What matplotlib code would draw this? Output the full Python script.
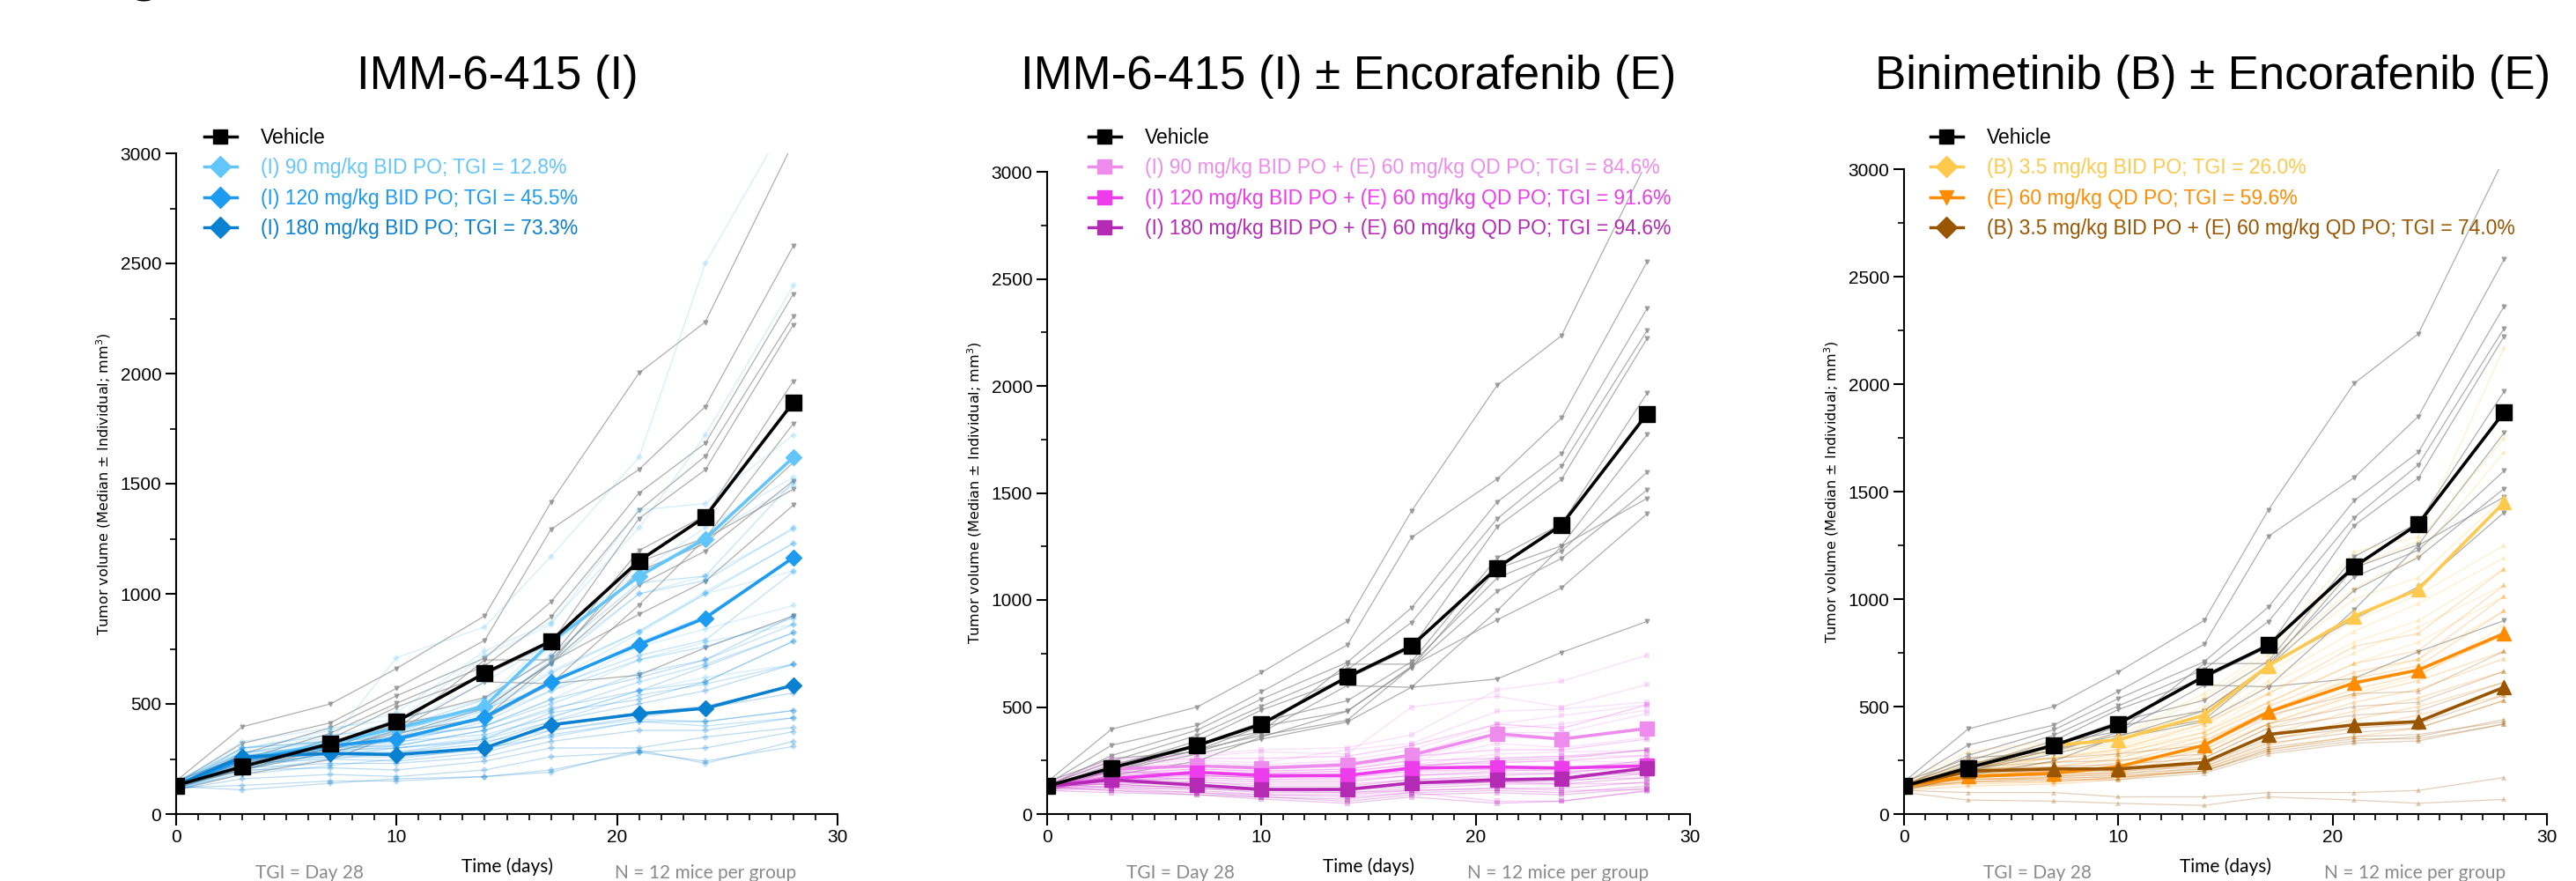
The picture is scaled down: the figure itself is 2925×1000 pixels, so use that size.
import matplotlib
matplotlib.use("Agg")
import matplotlib.pyplot as plt
from matplotlib.lines import Line2D
from matplotlib.ticker import MultipleLocator

plt.rcParams['font.family'] = ['Liberation Sans', 'DejaVu Sans']

days = [0, 3, 7, 10, 14, 17, 21, 24, 28]

# vehicle (shared by all three panels)
vehicle_median = [130, 215, 320, 420, 640, 785, 1150, 1350, 1870]
vehicle_mice = [
    [150, 396, 500, 661, 900, 1415, 2003, 2234, 3050],
    [140, 321, 414, 571, 789, 1292, 1565, 1850, 2580],
    [130, 273, 392, 537, 708, 963, 1458, 1683, 2362],
    [135, 247, 367, 503, 673, 895, 1379, 1625, 2259],
    [125, 222, 341, 486, 631, 776, 1342, 1563, 2222],
    [130, 230, 324, 430, 529, 711, 1197, 1355, 1966],
    [120, 215, 298, 409, 481, 685, 1146, 1253, 1773],
    [140, 196, 330, 384, 700, 700, 1103, 1228, 1597],
    [125, 200, 300, 367, 438, 685, 1040, 1194, 1514],
    [150, 260, 290, 380, 600, 592, 950, 1250, 1475],
    [110, 180, 247, 360, 480, 690, 907, 1057, 1403],
    [120, 200, 280, 350, 430, 592, 631, 755, 900],
]

# panel 1: IMM-6-415 alone
i90_median = [130, 250, 320, 390, 490, 780, 1080, 1250, 1620]
i90_mice = [
    [150, 300, 330, 710, 850, 1170, 1620, 2500, 3200],
    [140, 290, 380, 460, 740, 870, 1300, 1720, 2400],
    [130, 270, 350, 420, 720, 860, 1380, 1410, 1721],
    [120, 250, 320, 400, 600, 780, 1080, 1250, 1620],
    [135, 330, 390, 430, 520, 800, 1100, 1300, 1530],
    [125, 230, 300, 380, 500, 760, 1090, 1260, 1492],
    [140, 260, 330, 400, 470, 700, 1000, 1080, 1291],
    [115, 220, 300, 360, 480, 650, 830, 1010, 1228],
    [130, 240, 310, 390, 450, 600, 820, 1000, 1104],
    [150, 280, 340, 370, 440, 560, 760, 840, 947],
    [110, 200, 280, 340, 400, 520, 700, 780, 861],
    [125, 210, 260, 300, 350, 440, 560, 620, 680],
]
i120_median = [130, 245, 310, 340, 440, 600, 770, 890, 1165]
i120_mice = [
    [140, 280, 330, 390, 520, 720, 1050, 1080, 1510],
    [130, 260, 320, 370, 500, 680, 1000, 1060, 1300],
    [120, 245, 310, 350, 470, 640, 830, 1000, 1230],
    [135, 250, 300, 330, 440, 600, 780, 900, 1165],
    [125, 300, 360, 380, 480, 580, 720, 790, 1100],
    [140, 230, 290, 320, 420, 560, 700, 760, 890],
    [130, 240, 310, 340, 400, 500, 640, 700, 861],
    [115, 210, 280, 310, 380, 470, 600, 680, 823],
    [150, 260, 300, 330, 360, 440, 560, 600, 785],
    [110, 190, 250, 280, 340, 420, 540, 590, 680],
    [130, 220, 270, 300, 330, 380, 430, 420, 470],
    [120, 180, 220, 250, 300, 350, 420, 400, 437],
]
i180_median = [130, 260, 275, 270, 300, 405, 455, 480, 585]
i180_mice = [
    [140, 300, 330, 350, 400, 520, 620, 700, 900],
    [130, 280, 300, 310, 380, 480, 560, 670, 823],
    [120, 270, 290, 300, 340, 460, 520, 600, 785],
    [135, 260, 280, 280, 320, 420, 500, 560, 680],
    [125, 250, 270, 270, 300, 400, 460, 490, 584],
    [140, 240, 260, 260, 290, 380, 440, 480, 550],
    [130, 230, 250, 240, 280, 360, 420, 420, 470],
    [115, 210, 230, 230, 260, 330, 380, 380, 437],
    [150, 200, 210, 200, 240, 300, 300, 350, 393],
    [110, 160, 180, 170, 200, 260, 280, 300, 374],
    [120, 130, 150, 150, 170, 200, 280, 240, 307],
    [125, 110, 140, 160, 170, 190, 290, 230, 330],
]

# panel 2: IMM-6-415 + encorafenib
ie90_median = [130, 210, 225, 215, 230, 275, 375, 350, 400]
ie90_mice = [
    [150, 250, 280, 300, 310, 370, 580, 620, 742],
    [140, 260, 270, 290, 280, 500, 550, 500, 605],
    [130, 230, 250, 240, 300, 330, 480, 490, 523],
    [125, 220, 240, 230, 250, 300, 420, 460, 511],
    [135, 210, 230, 220, 240, 280, 400, 420, 486],
    [120, 200, 220, 210, 230, 270, 380, 380, 469],
    [140, 210, 225, 210, 220, 260, 360, 350, 400],
    [130, 190, 210, 200, 210, 250, 330, 310, 358],
    [115, 180, 200, 190, 200, 230, 280, 290, 298],
    [145, 200, 190, 180, 190, 220, 260, 270, 273],
    [125, 170, 180, 170, 180, 200, 240, 250, 239],
    [110, 160, 170, 160, 170, 190, 210, 220, 230],
]
ie120_median = [130, 165, 195, 180, 180, 215, 220, 215, 225]
ie120_mice = [
    [140, 240, 260, 260, 270, 320, 420, 400, 510],
    [130, 200, 230, 220, 230, 270, 300, 300, 350],
    [125, 190, 210, 200, 210, 250, 260, 270, 298],
    [135, 180, 200, 190, 200, 230, 240, 250, 273],
    [120, 170, 195, 180, 180, 215, 220, 215, 239],
    [140, 165, 190, 180, 180, 210, 215, 215, 225],
    [130, 160, 180, 170, 170, 200, 210, 200, 210],
    [115, 150, 170, 160, 160, 180, 190, 190, 187],
    [145, 140, 150, 140, 140, 160, 170, 160, 170],
    [125, 130, 130, 120, 120, 140, 150, 140, 145],
    [110, 120, 120, 110, 100, 110, 120, 110, 114],
    [130, 110, 100, 90, 80, 100, 60, 60, 107],
]
ie180_median = [130, 160, 135, 115, 115, 145, 160, 165, 215]
ie180_mice = [
    [140, 200, 180, 170, 180, 220, 250, 260, 300],
    [130, 180, 160, 150, 150, 180, 200, 210, 250],
    [125, 170, 150, 130, 130, 160, 180, 190, 230],
    [135, 165, 140, 120, 120, 150, 165, 170, 215],
    [120, 160, 135, 115, 115, 145, 160, 165, 210],
    [140, 150, 130, 110, 110, 130, 150, 150, 190],
    [130, 140, 120, 100, 100, 120, 140, 140, 170],
    [115, 130, 110, 90, 90, 110, 120, 120, 150],
    [145, 120, 100, 80, 70, 100, 110, 100, 130],
    [125, 110, 90, 80, 60, 90, 100, 90, 120],
    [110, 100, 90, 70, 50, 80, 50, 60, 110],
    [130, 140, 120, 110, 120, 140, 150, 160, 200],
]

# panel 3: binimetinib +/- encorafenib
b_median = [130, 215, 320, 345, 460, 690, 920, 1045, 1450]
b_mice = [
    [150, 290, 340, 360, 560, 760, 1220, 1290, 2170],
    [140, 260, 330, 350, 540, 740, 1150, 1270, 1750],
    [130, 240, 320, 340, 500, 720, 1050, 1200, 1685],
    [125, 230, 310, 345, 480, 700, 1000, 1100, 1472],
    [135, 215, 320, 345, 460, 690, 920, 1045, 1450],
    [120, 200, 300, 330, 440, 660, 900, 1020, 1250],
    [140, 210, 300, 320, 420, 620, 850, 980, 1191],
    [130, 190, 290, 310, 400, 600, 800, 900, 1140],
    [115, 180, 270, 300, 380, 560, 750, 870, 1064],
    [145, 200, 260, 290, 360, 520, 700, 800, 1013],
    [125, 170, 240, 270, 340, 480, 640, 720, 945],
    [110, 160, 220, 250, 300, 420, 560, 640, 877],
]
e_median = [130, 175, 190, 220, 320, 475, 610, 670, 840]
e_mice = [
    [140, 220, 260, 300, 420, 560, 780, 840, 1140],
    [130, 200, 240, 280, 380, 520, 700, 760, 1064],
    [125, 190, 220, 260, 360, 500, 660, 720, 1013],
    [135, 180, 200, 240, 340, 480, 630, 690, 945],
    [120, 175, 190, 220, 320, 475, 610, 670, 840],
    [140, 170, 185, 210, 300, 450, 580, 650, 834],
    [130, 160, 175, 200, 280, 420, 550, 620, 757],
    [115, 150, 170, 190, 260, 400, 520, 580, 723],
    [145, 165, 160, 180, 240, 370, 480, 540, 664],
    [125, 140, 150, 170, 220, 340, 440, 500, 613],
    [110, 130, 140, 160, 210, 320, 400, 460, 553],
    [130, 150, 150, 170, 200, 300, 360, 400, 528],
]
be_median = [130, 200, 210, 210, 240, 370, 415, 430, 590]
be_mice = [
    [140, 240, 260, 280, 320, 460, 560, 570, 757],
    [130, 220, 240, 250, 280, 420, 500, 520, 664],
    [125, 210, 220, 230, 260, 400, 460, 480, 613],
    [135, 200, 210, 210, 240, 370, 415, 430, 590],
    [120, 195, 205, 205, 230, 350, 400, 420, 553],
    [140, 190, 200, 200, 220, 330, 380, 400, 528],
    [130, 180, 190, 190, 210, 310, 360, 370, 429],
    [115, 170, 180, 180, 200, 300, 350, 350, 417],
    [145, 160, 170, 170, 200, 290, 340, 360, 440],
    [125, 150, 160, 160, 190, 280, 330, 340, 420],
    [110, 100, 100, 80, 80, 100, 100, 110, 170],
    [100, 65, 60, 50, 40, 80, 65, 50, 68],
]

titles = ['IMM-6-415 (I)', 'IMM-6-415 (I) \u00b1 Encorafenib (E)',
          'Binimetinib (B) \u00b1 Encorafenib (E)']
panels = [
    [('(I) 90 mg/kg BID PO; TGI = 12.8%', '#62C6FA', 'D', 'D', i90_median, i90_mice),
     ('(I) 120 mg/kg BID PO; TGI = 45.5%', '#1C9BF0', 'D', 'D', i120_median, i120_mice),
     ('(I) 180 mg/kg BID PO; TGI = 73.3%', '#0A80D0', 'D', 'D', i180_median, i180_mice)],
    [('(I) 90 mg/kg BID PO + (E) 60 mg/kg QD PO; TGI = 84.6%', '#EE8CEE', 's', 's', ie90_median, ie90_mice),
     ('(I) 120 mg/kg BID PO + (E) 60 mg/kg QD PO; TGI = 91.6%', '#EC3CEC', 's', 's', ie120_median, ie120_mice),
     ('(I) 180 mg/kg BID PO + (E) 60 mg/kg QD PO; TGI = 94.6%', '#B52AB5', 's', 's', ie180_median, ie180_mice)],
    [('(B) 3.5 mg/kg BID PO; TGI = 26.0%', '#FFC94D', 'D', '^', b_median, b_mice),
     ('(E) 60 mg/kg QD PO; TGI = 59.6%', '#FF8C00', 'v', '^', e_median, e_mice),
     ('(B) 3.5 mg/kg BID PO + (E) 60 mg/kg QD PO; TGI = 74.0%', '#9A5500', 'D', '^', be_median, be_mice)],
]

W, H = 2925, 1000
fig = plt.figure(figsize=(W / 100, H / 100), dpi=100)

# axes boxes in pixels: left, right, top(3000)
boxes = [(200, 951, 174), (1189, 1919, 195), (2162, 2892, 192)]
title_x = [565, 1531, 2513]
leg_x = [232, 1236, 2192]

for k, (x0, x1, ytop) in enumerate(boxes):
    ax = fig.add_axes([x0 / W, 1 - 924 / H, (x1 - x0) / W, (924 - ytop) / H])
    for m in vehicle_mice:
        ax.plot(days, m, color='#8c8c8c', lw=0.9, marker='v', ms=3.5, alpha=0.7, zorder=1)
    for label, col, lm, pm, med, mice in panels[k]:
        for m in mice:
            ax.plot(days, m, color=col, lw=0.9, marker=pm, ms=4, alpha=0.28,
                    markeredgewidth=0, zorder=2)
    handles = [Line2D([], [], color='black', marker='s', ms=12, lw=2.5, label='Vehicle')]
    for label, col, lm, pm, med, mice in panels[k]:
        ms = 9 if pm == 'D' else 11
        ax.plot(days, med, color=col, lw=2.6, marker=pm, ms=ms, zorder=4)
        handles.append(Line2D([], [], color=col, marker=lm, ms=12, lw=2.5, label=label))
    ax.plot(days, vehicle_median, color='black', lw=2.6, marker='s', ms=13, zorder=5)

    ax.set_xlim(0, 30)
    ax.set_ylim(0, 3000)
    for s in ['top', 'right']:
        ax.spines[s].set_visible(False)
    for s in ['left', 'bottom']:
        ax.spines[s].set_linewidth(1.5)
    ax.xaxis.set_major_locator(MultipleLocator(10))
    ax.xaxis.set_minor_locator(MultipleLocator(1))
    ax.yaxis.set_major_locator(MultipleLocator(500))
    ax.yaxis.set_minor_locator(MultipleLocator(250))
    ax.tick_params(which='major', length=9, width=1.5, labelsize=15, pad=3)
    ax.tick_params(which='minor', length=5, width=1.2)
    ax.set_ylabel('Tumor volume (Median \u00b1 Individual; mm$^3$)', family='DejaVu Sans',
                  fontsize=11.5)
    ax.yaxis.set_label_coords(-72 / (x1 - x0), 0.5)

    leg = fig.legend(handles=handles, loc='upper left',
                     bbox_to_anchor=(leg_x[k] / W, 1 - 145 / H), frameon=False,
                     fontsize=16.5, handlelength=1.6, handletextpad=1.2,
                     labelspacing=0.5, borderaxespad=0, borderpad=0)
    for txt, h in zip(leg.get_texts(), handles):
        txt.set_color(h.get_color())

    fig.text(title_x[k] / W, 1 - 101 / H, titles[k], fontsize=38, ha='center', va='baseline')
    cx = (x0 + x1) / 2
    fig.text(cx / W, 1 - 990 / H, 'Time (days)', family='Lato', fontsize=15,
             ha='center', va='baseline')
    fig.text((x0 + 151) / W, 1 - 997 / H, 'TGI = Day 28', family='Lato', fontsize=15,
             color='#8a8a8a', ha='center', va='baseline')
    fig.text((x1 - 150) / W, 1 - 997 / H, 'N = 12 mice per group', family='Lato',
             fontsize=15, color='#8a8a8a', ha='center', va='baseline')

fig.text(162 / W, 0.999, 'C', fontsize=40, fontweight='bold', ha='center', va='baseline')

fig.savefig('out.png', dpi=100)
